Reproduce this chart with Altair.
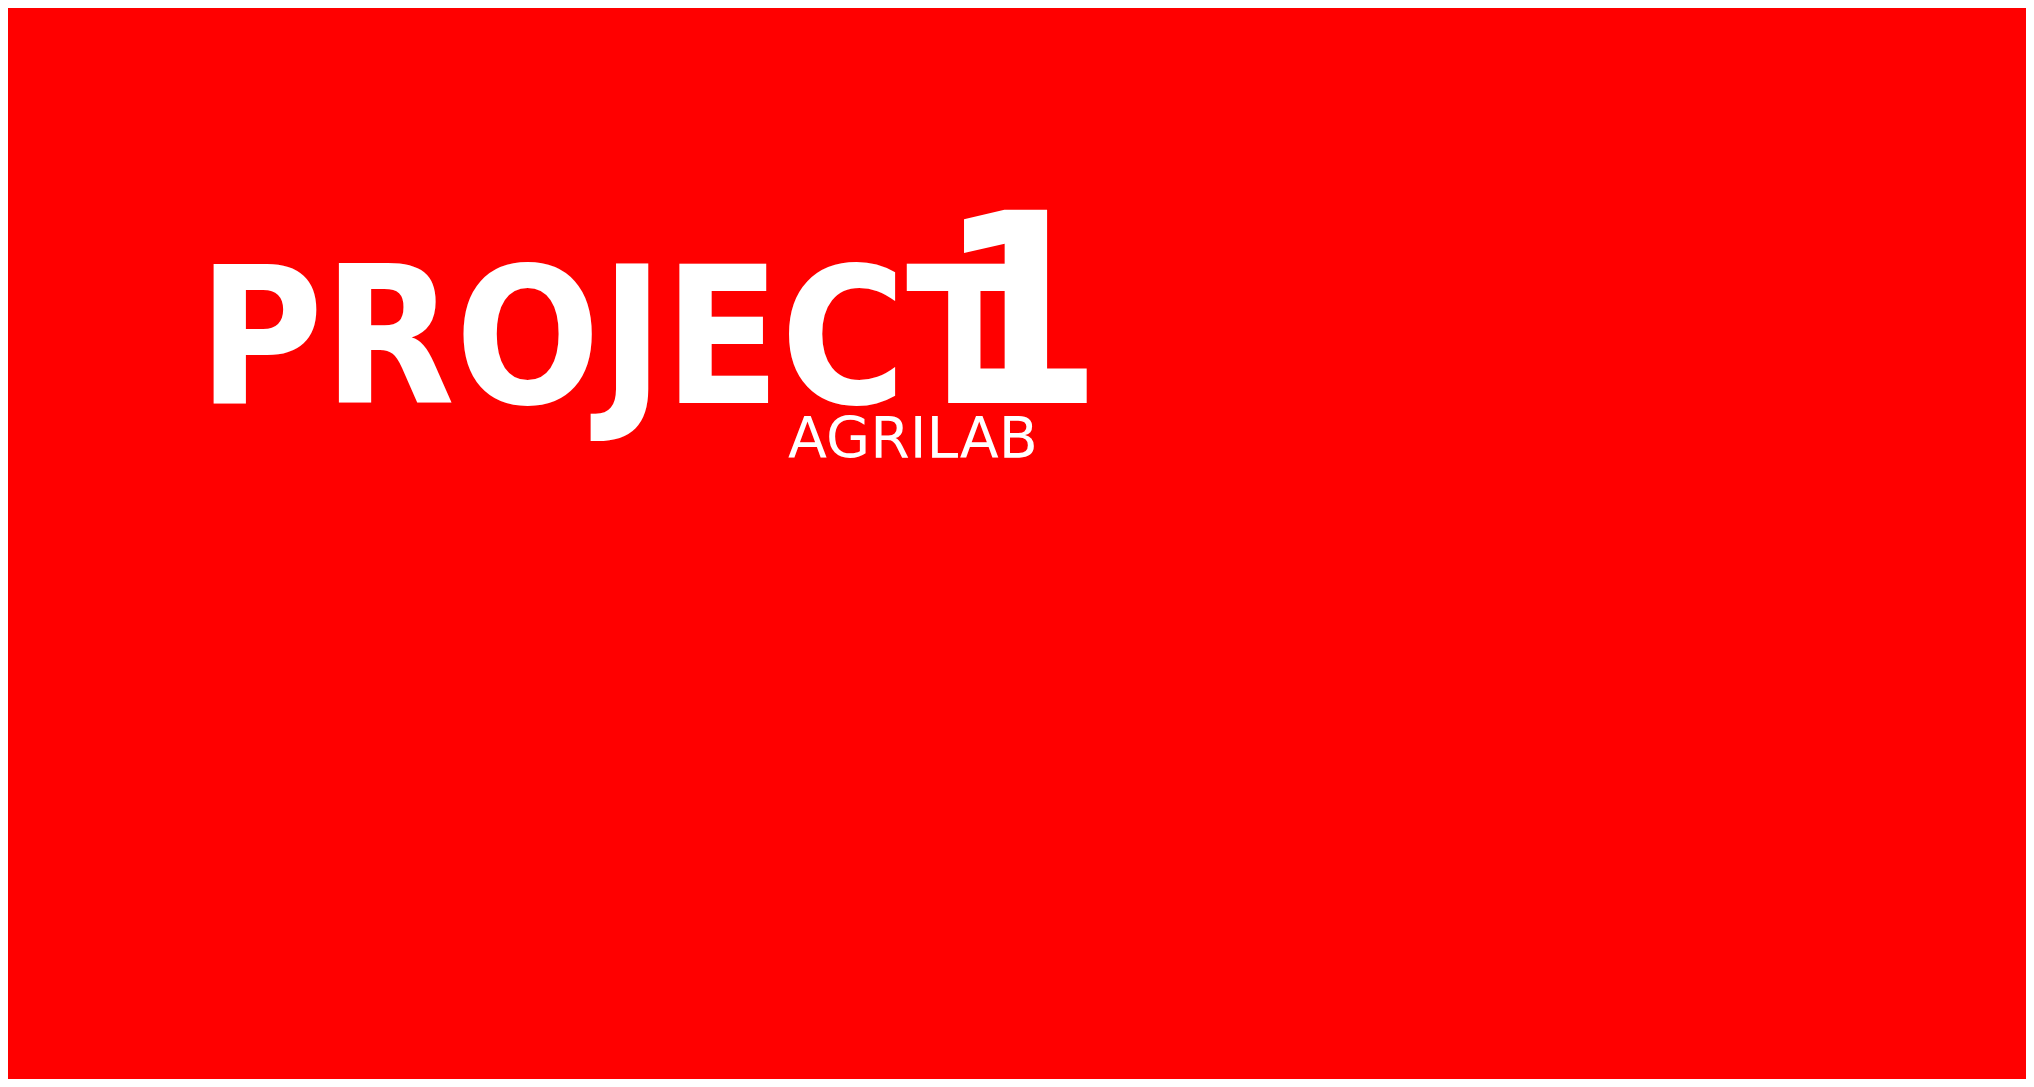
import altair as alt
import pandas as pd

titles = ["PROJECT"]
numbers = ["1"]
subtitles = ["AGRILAB"]

bg = "#ff0000"
base = alt.Chart(pd.DataFrame({"t": [0]}))

main = base.mark_text(
    font="DejaVu Sans Condensed", fontWeight="bold", fontSize=190,
    color="white", align="left", baseline="alphabetic"
).encode(text=alt.value(titles[0]), x=alt.value(190), y=alt.value(395))

num = base.mark_text(
    font="DejaVu Sans Condensed", fontWeight="bold", fontSize=265,
    color="white", align="right", baseline="alphabetic"
).encode(text=alt.value(numbers[0]), x=alt.value(1095), y=alt.value(395))

sub = base.mark_text(
    font="DejaVu Sans", fontSize=57, color="white",
    align="left", baseline="alphabetic"
).encode(text=alt.value(subtitles[0]), x=alt.value(780), y=alt.value(450))

chart = (main + num + sub).properties(
    width=2018, height=1071, background=bg, padding=0
).configure_view(stroke=None, fill=bg)

chart.save("out.html", embed_options={"renderer": "svg", "actions": False})
